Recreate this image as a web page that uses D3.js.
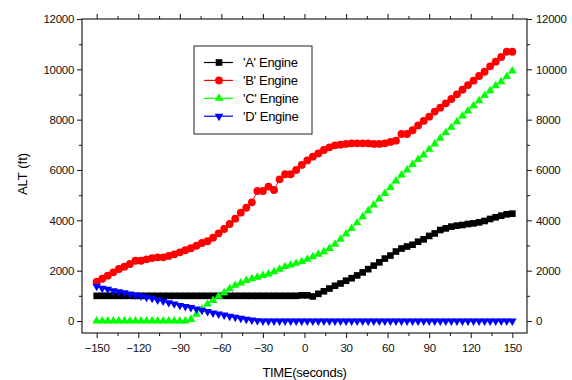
<!DOCTYPE html>
<html>
<head>
<meta charset="utf-8">
<script src="https://cdn.jsdelivr.net/npm/d3@7"></script>
<style>
  body { margin: 0; background: #fff; }
  svg { font-family: "Liberation Sans", Arial, sans-serif; }
</style>
</head>
<body>
<div id="container"></div>
<script>
/* CONSTANTS AND GLOBALS */
const width = 572,
  height = 380,
  margin = { top: 19, bottom: 47, left: 82, right: 45 };

/* DATA */
const time = [-150, -146, -142, -138, -134, -130, -126, -122, -118, -114,
  -110, -106, -102, -98, -94, -90, -86, -82, -78, -74,
  -70, -66, -62, -58, -54, -50, -46, -42, -38, -34,
  -30, -26, -22, -18, -14, -10, -6, -2, 2, 6,
  10, 14, 18, 22, 26, 30, 34, 38, 42, 46,
  50, 54, 58, 62, 66, 70, 74, 78, 82, 86,
  90, 94, 98, 102, 106, 110, 114, 118, 122, 126,
  130, 134, 138, 142, 146, 150];

const engineA = [1000, 1000, 1000, 1000, 1000, 1000, 1000, 1000, 1000, 1000,
  1000, 1000, 1000, 1000, 1000, 1000, 1000, 1000, 1000, 1000,
  1000, 1000, 1000, 1000, 1000, 1000, 1000, 1000, 1000, 1000,
  1000, 1000, 1000, 1000, 1000, 1000, 1000, 1020, 1020, 975,
  1080, 1180, 1290, 1400, 1490, 1600, 1700, 1810, 1930, 2060,
  2200, 2330, 2480, 2600, 2760, 2880, 2960, 3030, 3150, 3245,
  3380, 3480, 3615, 3680, 3750, 3790, 3815, 3855, 3880, 3920,
  3975, 4055, 4120, 4185, 4240, 4265];

const engineB = [1560, 1680, 1800, 1935, 2065, 2160, 2265, 2395, 2395, 2450,
  2500, 2530, 2530, 2585, 2650, 2730, 2810, 2890, 2990, 3100,
  3170, 3310, 3485, 3655, 3855, 4065, 4305, 4500, 4715, 5165,
  5165, 5340, 5205, 5630, 5830, 5830, 6000, 6200, 6380, 6530,
  6660, 6795, 6900, 6980, 7005, 7035, 7060, 7060, 7060, 7060,
  7035, 7035, 7060, 7115, 7165, 7430, 7430, 7580, 7770, 7950,
  8120, 8320, 8475, 8650, 8820, 9005, 9190, 9375, 9550, 9735,
  9905, 10120, 10305, 10490, 10700, 10700];

const engineC = [0, 0, 0, 0, 0, 0, 0, 0, 0, 0,
  0, 0, 0, 0, 0, 0, 0, 60, 270, 470,
  670, 815, 980, 1125, 1285, 1415, 1510, 1610, 1680, 1740,
  1810, 1870, 1960, 2055, 2160, 2225, 2290, 2360, 2450, 2555,
  2650, 2755, 2880, 3050, 3245, 3455, 3675, 3900, 4140, 4380,
  4610, 4850, 5070, 5300, 5560, 5800, 6000, 6220, 6420, 6595,
  6820, 7035, 7260, 7485, 7695, 7920, 8145, 8345, 8555, 8755,
  8955, 9150, 9350, 9510, 9710, 9935];

const engineD = [1380, 1300, 1258, 1205, 1166, 1126, 1073, 1033, 993, 940,
  900, 834, 790, 730, 680, 620, 575, 535, 480, 430,
  375, 320, 278, 238, 185, 146, 106, 66, 40, 15,
  0, 0, 0, 0, 0, 0, 0, 0, 0, 0,
  0, 0, 0, 0, 0, 0, 0, 0, 0, 0,
  0, 0, 0, 0, 0, 0, 0, 0, 0, 0,
  0, 0, 0, 0, 0, 0, 0, 0, 0, 0,
  0, 0, 0, 0, 0, 0];

const seriesNames = ["'A' Engine", "'B' Engine", "'C' Engine", "'D' Engine"];
const seriesColors = ["#000000", "#ff0000", "#00ff00", "#0000ff"];
const xTicks = [-150, -120, -90, -60, -30, 0, 30, 60, 90, 120, 150];
const xMinorTicks = [-135, -105, -75, -45, -15, 15, 45, 75, 105, 135];
const yTicks = [0, 2000, 4000, 6000, 8000, 10000, 12000];
const yMinorTicks = [1000, 3000, 5000, 7000, 9000, 11000];

const series = [engineA, engineB, engineC, engineD].map((vals, k) => ({
  name: seriesNames[k],
  color: seriesColors[k],
  points: vals.map((v, i) => ({ t: time[i], alt: v }))
}));

// marker shapes for each engine
const symbols = [
  d3.symbol().type(d3.symbolSquare).size(44),
  d3.symbol().type(d3.symbolCircle).size(48),
  d3.symbol().type(d3.symbolTriangle).size(32),
  d3.symbol().type(d3.symbolTriangle).size(32)
];
const rotations = [0, 0, 0, 180];

/* SCALES */
const xScale = d3.scaleLinear()
  .domain([-160.6, 160.6])
  .range([margin.left, width - margin.right]);

const yScale = d3.scaleLinear()
  .domain([-477, 12000])
  .range([height - margin.bottom, margin.top]);

const svg = d3.select("#container")
  .append("svg")
  .attr("width", width)
  .attr("height", height);

/* AXES */
const bottom = height - margin.bottom,
  right = width - margin.right;

function styleAxis(g) {
  g.select(".domain").remove();
  g.selectAll("line").attr("stroke", "#222").attr("stroke-width", 1.1);
  g.selectAll("text").attr("fill", "#111").style("font-size", "11.5px").style("letter-spacing", "-0.3px");
}

svg.append("g")
  .attr("transform", `translate(0,${bottom})`)
  .call(d3.axisBottom(xScale).tickValues(xTicks).tickSize(5).tickPadding(6).tickFormat(d3.format("d")))
  .call(styleAxis);
svg.append("g")
  .attr("transform", `translate(0,${bottom})`)
  .call(d3.axisBottom(xScale).tickValues(xMinorTicks).tickSize(3).tickFormat(""))
  .call(styleAxis);
svg.append("g")
  .attr("transform", `translate(0,${margin.top})`)
  .call(d3.axisTop(xScale).tickValues(xTicks).tickSize(5).tickFormat(""))
  .call(styleAxis);
svg.append("g")
  .attr("transform", `translate(0,${margin.top})`)
  .call(d3.axisTop(xScale).tickValues(xMinorTicks).tickSize(3).tickFormat(""))
  .call(styleAxis);

svg.append("g")
  .attr("transform", `translate(${margin.left},0)`)
  .call(d3.axisLeft(yScale).tickValues(yTicks).tickSize(5).tickPadding(3).tickFormat(d3.format("d")))
  .call(styleAxis);
svg.append("g")
  .attr("transform", `translate(${margin.left},0)`)
  .call(d3.axisLeft(yScale).tickValues(yMinorTicks).tickSize(3).tickFormat(""))
  .call(styleAxis);
svg.append("g")
  .attr("transform", `translate(${right},0)`)
  .call(d3.axisRight(yScale).tickValues(yTicks).tickSize(5).tickPadding(4).tickFormat(d3.format("d")))
  .call(styleAxis);
svg.append("g")
  .attr("transform", `translate(${right},0)`)
  .call(d3.axisRight(yScale).tickValues(yMinorTicks).tickSize(3).tickFormat(""))
  .call(styleAxis);

// plot frame
svg.append("rect")
  .attr("x", margin.left)
  .attr("y", margin.top)
  .attr("width", right - margin.left)
  .attr("height", bottom - margin.top)
  .attr("fill", "none")
  .attr("stroke", "#222")
  .attr("stroke-width", 1.2);

// axis titles
svg.append("text")
  .attr("x", xScale(0))
  .attr("y", 372)
  .attr("dy", "0.35em")
  .attr("text-anchor", "middle")
  .style("font-size", "13px")
  .style("letter-spacing", "-0.3px")
  .text("TIME(seconds)");

svg.append("text")
  .attr("transform", "translate(22,174) rotate(-90)")
  .attr("dy", "0.35em")
  .attr("text-anchor", "middle")
  .style("font-size", "13px")
  .text("ALT (ft)");

/* LINES AND MARKERS */
const line = d3.line()
  .x(d => xScale(d.t))
  .y(d => yScale(d.alt));

series.forEach((s, k) => {
  const g = svg.append("g").attr("class", "series");
  g.append("path")
    .datum(s.points)
    .attr("d", line)
    .attr("fill", "none")
    .attr("stroke", s.color)
    .attr("stroke-width", 1);
  g.selectAll("path.marker")
    .data(s.points)
    .join("path")
    .attr("class", "marker")
    .attr("d", symbols[k])
    .attr("transform", d => `translate(${xScale(d.t)},${yScale(d.alt)}) rotate(${rotations[k]})`)
    .attr("fill", s.color);
});

/* LEGEND */
const legend = svg.append("g").attr("transform", "translate(194,46)");
legend.append("rect")
  .attr("width", 118)
  .attr("height", 88)
  .attr("fill", "#fff")
  .attr("stroke", "#222")
  .attr("stroke-width", 1);

series.forEach((s, k) => {
  const row = legend.append("g").attr("transform", `translate(0,${16.5 + k * 17.9})`);
  row.append("line")
    .attr("x1", 10).attr("x2", 39)
    .attr("stroke", s.color)
    .attr("stroke-width", 1.2);
  row.append("path")
    .attr("d", symbols[k])
    .attr("transform", `translate(25,0) rotate(${rotations[k]})`)
    .attr("fill", s.color);
  row.append("text")
    .attr("x", 49)
    .attr("dy", "0.35em")
    .style("font-size", "13px")
    .style("letter-spacing", "-0.3px")
    .text(s.name);
});
</script>
</body>
</html>
